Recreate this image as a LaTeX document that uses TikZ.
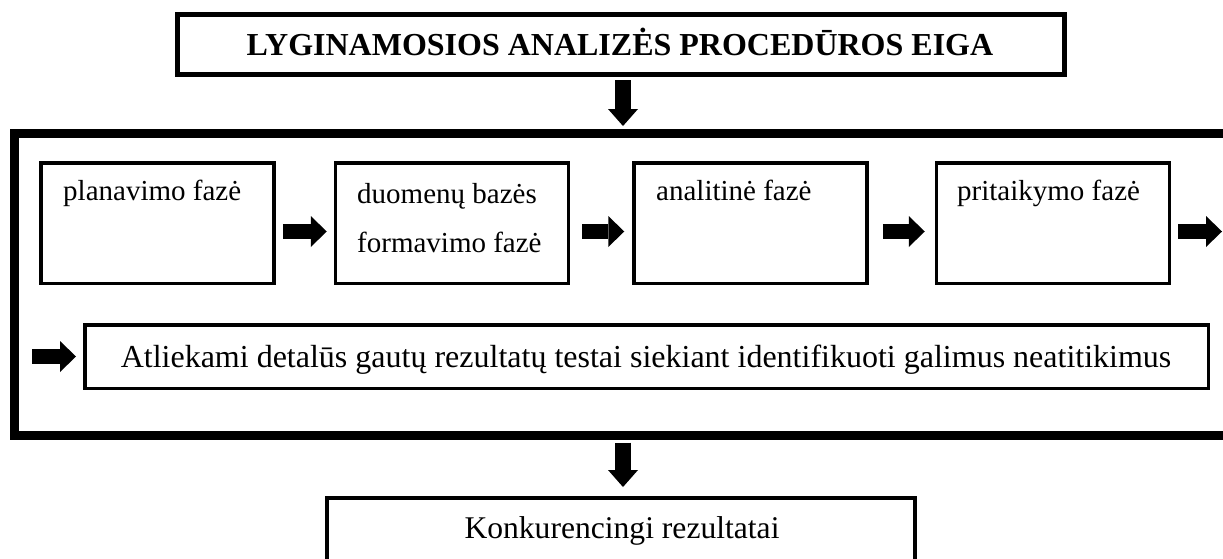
\documentclass[tikz,border=0pt]{standalone}
\usepackage{fontspec}
\setmainfont{Liberation Serif}
\usetikzlibrary{arrows.meta,calc}
\begin{document}
\begin{tikzpicture}[x=1pt,y=-1pt,
  titlebox/.style={draw, line width=5pt, minimum width=887pt, minimum height=60pt, inner sep=0pt},
  framebox/.style={draw, line width=9pt, minimum width=1241pt, minimum height=301.5pt, inner sep=0pt},
  phasebox/.style={draw, line width=3.5pt, minimum width=233pt, minimum height=120.5pt, inner sep=0pt},
  testbox/.style={draw, line width=3.5pt, minimum width=1123.5pt, minimum height=63.5pt, inner sep=0pt},
  resbox/.style={draw, line width=4pt, minimum width=588pt, minimum height=120pt, inner sep=0pt},
  boxtext/.style={inner sep=0pt, font=\fontsize{29}{34}\selectfont},
  blockarrow/.style={line width=15.5pt, line cap=butt,
    -{Triangle[width=31pt,length=16pt,line width=0pt]}},
  downarrow/.style={line width=16pt, line cap=butt,
    -{Triangle[width=30pt,length=17pt,line width=0pt]}}
]
\useasboundingbox (0,0) rectangle (1223,558);
\begin{scope}
\clip (0,0) rectangle (1223,558);
% title
\node[titlebox] (title) at (621,44.5) {};
\node[inner sep=0pt, anchor=base, font=\fontsize{32}{38}\selectfont\bfseries] (titletext) at (620,55) {LYGINAMOSIOS ANALIZĖS PROCEDŪROS EIGA};
% frame
\node[framebox] (fr) at (635,284.25) {};
% phases
\node[phasebox] (b1) at (157.5,223) {};
\node[phasebox] (b2) at (452,223) {};
\node[phasebox] (b3) at (750.5,223) {};
\node[phasebox] (b4) at (1053,223) {};
\node[boxtext, anchor=base west] (t1) at (63,200) {planavimo fazė};
\node[boxtext, anchor=base west] (t2a) at (357,203) {duomenų bazės};
\node[boxtext, anchor=base west] (t2b) at (357,252) {formavimo fazė};
\node[boxtext, anchor=base west] (t3) at (656,200) {analitinė fazė};
\node[boxtext, anchor=base west] (t4) at (957,200) {pritaikymo fazė};
% tests box
\node[testbox] (b5) at (646.5,356.5) {};
\node[inner sep=0pt, anchor=base, font=\fontsize{32}{38}\selectfont] (t5) at (646,367) {Atliekami detalūs gautų rezultatų testai siekiant identifikuoti galimus neatitikimus};
% result
\node[resbox] (res) at (621,558) {};
\node[inner sep=0pt, anchor=base, font=\fontsize{31.6}{37}\selectfont] (tres) at (622,538) {Konkurencingi rezultatai};
% arrows
\coordinate (a4end) at (1222,231.5);
\coordinate (a5start) at (32,356.5);
\draw[blockarrow] ([shift={(7,8.5)}]b1.east) -- ([shift={(-7,8.5)}]b2.west);
\draw[blockarrow] ([shift={(12,8.5)}]b2.east) -- ([shift={(-8,8.5)}]b3.west);
\draw[blockarrow] ([shift={(14,8.5)}]b3.east) -- ([shift={(-10,8.5)}]b4.west);
\draw[blockarrow] ([shift={(7,8.5)}]b4.east) -- (a4end);
\draw[blockarrow] (a5start) -- ([shift={(-7,0)}]b5.west);
\draw[downarrow] ([shift={(2,3)}]title.south) -- ([shift={(2,-3)}]title.south |- fr.north);
\draw[downarrow] ([shift={(2,3)}]title.south |- fr.south) -- ([shift={(2,-9)}]res.north);
\end{scope}
\end{tikzpicture}
\end{document}
